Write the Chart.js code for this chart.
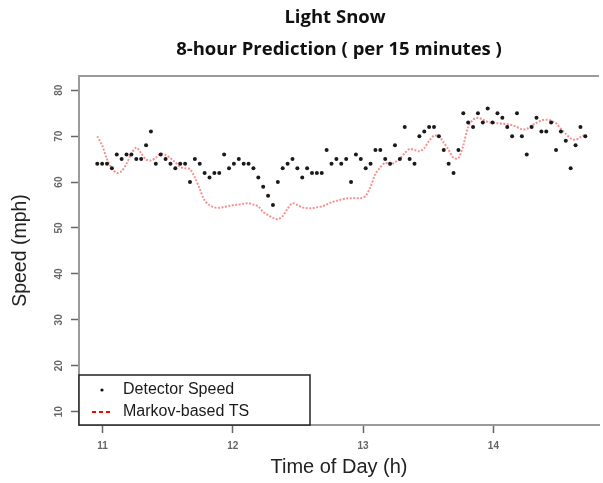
<!DOCTYPE html>
<html>
<head>
<meta charset="utf-8">
<script src="https://cdn.jsdelivr.net/npm/chart.js@4.4.0/dist/chart.umd.min.js"></script>
<style>
  html, body { margin: 0; padding: 0; background: #fff; }
  #wrap { width: 603px; height: 483px; }
</style>
</head>
<body>
<div id="wrap"><canvas id="speedChart" width="603" height="483"></canvas></div>
<script>
// Text
const titleLines = ['Light Snow', '8-hour Prediction ( per 15 minutes )'];
const xTitle = 'Time of Day (h)';
const yTitle = 'Speed (mph)';

// Axes
const xTicks = [11, 12, 13, 14];
const yTicks = [10, 20, 30, 40, 50, 60, 70, 80];
const xRange = [10.82, 14.81];
const yRange = [7.1, 83.1];

// Sampling grid (hours)
const startHour = 10.96;
const stepHour = 0.03745;

// Detector speed (mph)
const detectorSpeed = [
  64, 64, 64, 63, 66, 65, 66, 66, 65, 65, 68, 71, 64, 66, 65, 64, 63, 64, 64, 60,
  65, 64, 62, 61, 62, 62, 66, 63, 64, 65, 64, 64, 63, 61, 59, 57, 55, 60, 63, 64,
  65, 63, 61, 63, 62, 62, 62, 67, 64, 65, 64, 65, 60, 66, 65, 63, 64, 67, 67, 65,
  64, 68, 65, 72, 65, 64, 70, 71, 72, 72, 70, 67, 64, 62, 67, 75, 73, 72, 75, 73,
  76, 73, 75, 74, 72, 70, 75, 70, 66, 72, 74, 71, 71, 73, 67, 71, 69, 63, 68, 72,
  70
];

// Markov-based TS prediction (mph)
const markovTS = [
  70.0, 68.0, 65.0, 63.0, 62.0, 62.4, 64.0, 66.2, 67.5, 66.3, 64.9, 64.7, 65.3, 66.2, 65.9, 65.2, 64.3, 63.3, 63.0, 62.8,
  61.0, 58.5, 56.0, 55.0, 54.5, 54.4, 54.6, 54.8, 55.0, 55.1, 55.3, 55.4, 55.1, 54.7, 53.5, 52.8, 52.2, 51.9, 52.6, 54.2,
  55.4, 55.0, 54.5, 54.3, 54.3, 54.5, 54.7, 55.1, 55.6, 55.9, 56.2, 56.4, 56.5, 56.5, 56.5, 57.0, 59.0, 61.8, 63.2, 64.2,
  63.8, 64.3, 65.1, 66.3, 67.2, 67.0, 66.7, 67.4, 69.0, 70.1, 70.0, 68.6, 67.0, 65.3, 65.2, 68.0, 72.0, 73.6, 74.0, 73.6,
  73.1, 72.9, 72.8, 72.7, 72.6, 72.4, 72.0, 71.5, 71.6, 72.3, 72.9, 73.4, 73.6, 73.4, 72.8, 71.6, 70.5, 69.5, 69.2, 69.8,
  70.3
];

const toPoints = arr => arr.map((v, i) => ({ x: startHour + i * stepHour, y: v }));

const axisGrey = '#9a9a9a';
const tickGrey = '#666';

// Titles, top frame line and the boxed legend
const decorations = {
  id: 'decorations',
  afterDraw(chart) {
    const { ctx, chartArea: a } = chart;
    ctx.save();

    ctx.strokeStyle = axisGrey;
    ctx.lineWidth = 2;
    ctx.beginPath();
    ctx.moveTo(a.left, a.top);
    ctx.lineTo(a.right, a.top);
    ctx.stroke();

    const cx = (a.left + a.right) / 2;
    ctx.fillStyle = '#111';
    ctx.font = 'bold 18.5px "Open Sans", "Liberation Sans", sans-serif';
    ctx.textAlign = 'center';
    ctx.textBaseline = 'middle';
    ctx.fillText(titleLines[0], cx - 4, 18);
    ctx.fillText(titleLines[1], cx, 50);

    // legend
    const ds = chart.data.datasets;
    const bx = a.left, by = a.bottom - 50, bw = 231, bh = 50;
    ctx.fillStyle = '#fff';
    ctx.fillRect(bx, by, bw, bh);
    ctx.strokeStyle = '#222';
    ctx.lineWidth = 1.5;
    ctx.strokeRect(bx, by, bw, bh);

    ctx.fillStyle = '#111';
    ctx.beginPath();
    ctx.arc(bx + 23, by + 15, 1.6, 0, Math.PI * 2);
    ctx.fill();

    ctx.strokeStyle = 'red';
    ctx.lineWidth = 2;
    ctx.setLineDash([4, 3]);
    ctx.beginPath();
    ctx.moveTo(bx + 13, by + 37);
    ctx.lineTo(bx + 34, by + 37);
    ctx.stroke();
    ctx.setLineDash([]);

    ctx.fillStyle = '#1a1a1a';
    ctx.font = '16px "Liberation Sans", Arial, sans-serif';
    ctx.textAlign = 'left';
    ctx.fillText(ds[0].label, bx + 44, by + 15);
    ctx.fillText(ds[1].label, bx + 44, by + 37);

    ctx.restore();
  }
};

const ctx = document.getElementById('speedChart').getContext('2d');
new Chart(ctx, {
  type: 'scatter',
  data: {
    datasets: [
      {
        label: 'Detector Speed',
        data: toPoints(detectorSpeed),
        showLine: false,
        pointRadius: 2,
        pointBorderWidth: 0,
        pointBackgroundColor: '#1a1a1a',
        order: 0
      },
      {
        label: 'Markov-based TS',
        data: toPoints(markovTS),
        showLine: true,
        pointRadius: 0,
        borderColor: 'rgba(240, 100, 100, 0.7)',
        borderWidth: 2,
        borderDash: [2, 1.5],
        tension: 0.3,
        order: 1
      }
    ]
  },
  options: {
    responsive: false,
    animation: false,
    layout: { padding: { top: 76, left: 0, right: 0, bottom: 0 } },
    plugins: {
      legend: { display: false },
      tooltip: { enabled: false }
    },
    scales: {
      x: {
        type: 'linear',
        min: xRange[0],
        max: xRange[1],
        afterFit: s => { s.height = 58; },
        afterBuildTicks: s => { s.ticks = xTicks.map(v => ({ value: v })); },
        grid: { drawOnChartArea: false, drawTicks: true, tickLength: 8, tickColor: tickGrey, tickWidth: 1.5 },
        border: { display: true, color: axisGrey, width: 2 },
        ticks: {
          color: tickGrey,
          padding: 7,
          font: { family: '"Liberation Sans", Arial, sans-serif', size: 10, weight: 'bold' }
        },
        title: {
          display: true,
          text: xTitle,
          color: '#222',
          padding: { top: 0, bottom: 4 },
          font: { family: '"Liberation Sans", Arial, sans-serif', size: 20 }
        }
      },
      y: {
        type: 'linear',
        min: yRange[0],
        max: yRange[1],
        afterFit: s => { s.width = 79; },
        afterBuildTicks: s => { s.ticks = yTicks.map(v => ({ value: v })); },
        grid: { drawOnChartArea: false, drawTicks: true, tickLength: 8, tickColor: tickGrey, tickWidth: 1.5 },
        border: { display: true, color: axisGrey, width: 2 },
        ticks: {
          color: tickGrey,
          padding: 6,
          minRotation: 90,
          maxRotation: 90,
          crossAlign: 'center',
          font: { family: '"Liberation Sans", Arial, sans-serif', size: 10, weight: 'bold' }
        },
        title: {
          display: true,
          text: yTitle,
          color: '#222',
          padding: { top: 9, bottom: 0 },
          font: { family: '"Liberation Sans", Arial, sans-serif', size: 19.5 }
        }
      }
    }
  },
  plugins: [decorations]
});
</script>
</body>
</html>
